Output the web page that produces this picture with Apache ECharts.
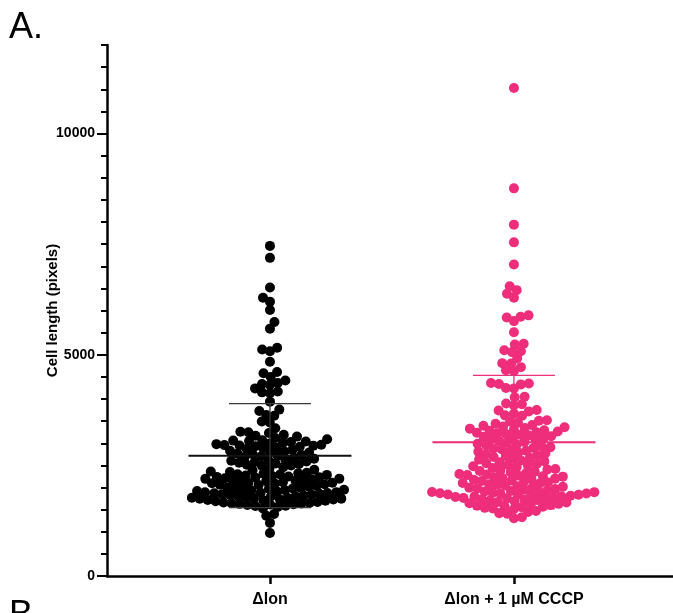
<!DOCTYPE html>
<html>
<head>
<meta charset="utf-8">
<script src="https://cdn.jsdelivr.net/npm/echarts@6/dist/echarts.min.js"></script>
<style>
  html, body { margin: 0; padding: 0; background: #fff; }
  #chart { width: 673px; height: 613px; }
</style>
</head>
<body>
<div id="chart"></div>
<script>
// Group names on the x axis
const categories = ['\u0394lon', '\u0394lon + 1 \u00b5M CCCP'];

// Cell lengths (pixels), Δlon
const lonValues = [
  7460, 7190, 6520, 6290, 6200, 6010, 5740, 5590, 5160, 5120, 5080, 4840,
  4610, 4580, 4500, 4420, 4360, 4340, 4320, 4240, 4170, 4150, 4130, 3940,
  3760, 3730, 3640, 3620, 3490, 3470, 3340, 3260, 3250, 3230, 3190, 3170,
  3150, 3120,
  3090, 3070, 3060, 3050, 3040, 3030, 3010,
  2995, 2980, 2965, 2958, 2950, 2942, 2935, 2920, 2905,
  2890, 2870, 2850, 2830, 2815, 2800,
  2790, 2770, 2750, 2735, 2720, 2705,
  2690, 2670, 2650, 2635, 2620, 2605,
  2590, 2575, 2560, 2545, 2530, 2515, 2500,
  2490, 2460, 2430, 2400,
  2390, 2360, 2350, 2335, 2320, 2310, 2300,
  2295, 2285, 2270, 2260, 2250, 2240, 2230, 2220, 2210, 2200,
  2195, 2185, 2170, 2160, 2150, 2140, 2130, 2120, 2110, 2100,
  2095, 2085, 2075, 2065, 2055, 2035, 2015, 2000,
  1995, 1990, 1980, 1970, 1960, 1950, 1940, 1930, 1920, 1910,
  1895, 1890, 1880, 1875, 1870, 1860, 1850, 1840, 1830, 1820, 1810, 1800,
  1795, 1785, 1770, 1765, 1760, 1748, 1745, 1735, 1728, 1720, 1710, 1700,
  1690, 1675, 1660, 1652, 1645, 1638, 1630, 1622, 1615, 1605,
  1590, 1582, 1560, 1525,
  1400, 1360, 1200, 970
];

// Cell lengths (pixels), Δlon + 1 µM CCCP
const cccpValues = [
  11030, 8760, 7940, 7540, 7040, 6550, 6460, 6380, 6290, 5890, 5860, 5840, 5760, 5510,
  5250, 5230, 5100, 5080, 5060, 4920, 4810, 4800, 4720, 4650, 4630, 4360, 4350, 4340, 4330,
  4250, 4240, 4050, 4040, 3900, 3880, 3860, 3750, 3740, 3720, 3670, 3630, 3620, 3520, 3510,
  3490, 3465, 3440, 3410,
  3395, 3380, 3360, 3345, 3330, 3310,
  3295, 3280, 3265, 3250, 3240, 3225, 3210,
  3190, 3175, 3160, 3145, 3130, 3110,
  3090, 3070, 3050, 3030, 3010,
  2990, 2970, 2950, 2930, 2910,
  2895, 2880, 2865, 2850, 2830, 2810,
  2790, 2770, 2750, 2730, 2710,
  2690, 2670, 2650, 2630, 2610,
  2590, 2570, 2550, 2530, 2510,
  2495, 2480, 2460, 2440, 2420, 2405,
  2390, 2375, 2355, 2340, 2320, 2305,
  2295, 2280, 2270, 2255, 2245, 2230, 2215, 2200,
  2190, 2175, 2160, 2145, 2130, 2115, 2100,
  2090, 2075, 2060, 2045, 2030, 2015, 2005,
  1995, 1980, 1965, 1950, 1935, 1920, 1910, 1900,
  1895, 1890, 1880, 1872, 1865, 1858, 1850, 1842, 1835, 1825, 1815, 1805,
  1795, 1785, 1775, 1765, 1755, 1745, 1735, 1725, 1715, 1705,
  1690, 1675, 1660, 1645, 1630, 1615, 1605,
  1590, 1575, 1565, 1555, 1540, 1525, 1510,
  1470, 1445, 1420, 1405,
  1330, 1305
];

// Y axis tick labels
const yLabelValues = [0, 5000, 10000];

const groups = [
  { name: categories[0], values: lonValues, color: '#000000', lineColor: '#111111', sdColor: '#3a3a3a' },
  { name: categories[1], values: cccpValues, color: '#EE2D7B', lineColor: '#EE2D7B', sdColor: '#EE2D7B' }
];

const FONT = '"Liberation Sans", Arial, sans-serif';
const X_MIN = 0.332, X_MAX = 2.652;
const DOT = 10;        // marker diameter in px
const GAP = 8;         // centre spacing used by the swarm layout

const chart = echarts.init(document.getElementById('chart'), null, { renderer: 'canvas' });

const baseOption = {
  backgroundColor: '#ffffff',
  animation: false,
  grid: { left: 107, right: 0, top: 45, bottom: 37, containLabel: false, outerBoundsMode: 'none' },
  xAxis: {
    type: 'value', min: X_MIN, max: X_MAX,
    splitLine: { show: false },
    axisLine: { show: true, onZero: false, lineStyle: { color: '#000', width: 2.5 } },
    axisTick: { show: true, customValues: [1, 2], length: 8, lineStyle: { color: '#000', width: 2.5 } },
    axisLabel: {
      show: true, customValues: [1, 2], margin: 16,
      formatter: v => categories[Math.round(v) - 1] || '',
      color: '#000', fontFamily: FONT, fontWeight: 'bold', fontSize: 16
    }
  },
  yAxis: [
    {
      type: 'value', position: 'left', min: 0, max: 12000, interval: 500,
      name: 'Cell length (pixels)', nameLocation: 'middle', nameGap: 47, nameRotate: 90,
      nameTextStyle: { color: '#000', fontFamily: FONT, fontWeight: 'bold', fontSize: 15 },
      splitLine: { show: false },
      axisLine: { show: true, onZero: false, lineStyle: { color: '#000', width: 2.5 } },
      axisTick: { show: true, length: 6, lineStyle: { color: '#000', width: 2 } },
      axisLabel: { show: false }
    },
    {
      type: 'value', position: 'left', offset: 0, min: 0, max: 12000,
      splitLine: { show: false },
      axisLine: { show: false },
      axisTick: { show: true, customValues: yLabelValues, length: 10, lineStyle: { color: '#000', width: 2 } },
      axisLabel: {
        show: true, customValues: yLabelValues, margin: 12,
        formatter: v => String(v),
        color: '#000', fontFamily: FONT, fontWeight: 'bold', fontSize: 14
      }
    }
  ],
  graphic: [
    { type: 'text', left: 9, top: 10, style: { text: 'A.', fontFamily: FONT, fontSize: 36, fill: '#000' } },
    { type: 'text', left: 9, top: 598, style: { text: 'B', fontFamily: FONT, fontSize: 36, fill: '#000' } }
  ],
  series: []
};

chart.setOption(baseOption);

// Beeswarm layout: each point keeps its value on y and is pushed sideways
// (in pixel space) to the nearest free slot around its group's centre.
function swarmOffsets(pys) {
  const order = pys.map((p, i) => i).sort((a, b) => pys[b] - pys[a]);
  const placed = [];
  const xs = new Array(pys.length);
  let flip = 1;
  order.forEach(i => {
    const y = pys[i];
    const near = placed.filter(p => Math.abs(p.y - y) < GAP);
    const cands = [0];
    near.forEach(p => {
      const dx = Math.sqrt(GAP * GAP - (p.y - y) * (p.y - y));
      cands.push(p.x + dx + 0.01, p.x - dx - 0.01);
    });
    const ok = cands.filter(c => near.every(p => (c - p.x) * (c - p.x) + (y - p.y) * (y - p.y) >= GAP * GAP - 0.01));
    ok.sort((a, b) => {
      const d = Math.abs(a) - Math.abs(b);
      if (Math.abs(d) > 0.2) return d;
      return flip * (a - b);
    });
    const x = ok[0];
    flip = -flip;
    xs[i] = x;
    placed.push({ x, y });
  });
  return xs;
}

function stats(arr) {
  const n = arr.length;
  const mean = arr.reduce((s, v) => s + v, 0) / n;
  const sd = Math.sqrt(arr.reduce((s, v) => s + (v - mean) * (v - mean), 0) / (n - 1));
  return { mean, sd };
}

const series = [];
groups.forEach((g, gi) => {
  const cx = gi + 1;
  const centrePx = chart.convertToPixel({ gridIndex: 0 }, [cx, 0]);
  const pys = g.values.map(v => chart.convertToPixel({ gridIndex: 0 }, [cx, v])[1]);
  const offs = swarmOffsets(pys);
  const data = g.values.map((v, i) => [chart.convertFromPixel({ gridIndex: 0 }, [centrePx[0] + offs[i], pys[i]])[0], v]);
  series.push({
    type: 'scatter', name: g.name, data, symbolSize: DOT,
    itemStyle: { color: g.color, opacity: 1 }, z: 2, silent: true
  });

  const s = stats(g.values);
  const halfMean = 0.334, halfSd = 0.168;
  const lineBase = { type: 'line', symbol: 'none', silent: true, z: 5, animation: false };
  series.push(Object.assign({}, lineBase, {
    data: [[cx - halfMean, s.mean], [cx + halfMean, s.mean]],
    lineStyle: { color: g.lineColor, width: 2 }
  }));
  series.push(Object.assign({}, lineBase, {
    data: [[cx - halfSd, s.mean + s.sd], [cx + halfSd, s.mean + s.sd]],
    lineStyle: { color: g.sdColor, width: 1.3 }
  }));
  series.push(Object.assign({}, lineBase, {
    data: [[cx - halfSd, s.mean - s.sd], [cx + halfSd, s.mean - s.sd]],
    lineStyle: { color: g.sdColor, width: 1.3 }
  }));
  series.push(Object.assign({}, lineBase, {
    data: [[cx, s.mean - s.sd], [cx, s.mean + s.sd]],
    lineStyle: { color: g.sdColor, width: 1.3 }
  }));
});

chart.setOption({ series });
</script>
</body>
</html>
